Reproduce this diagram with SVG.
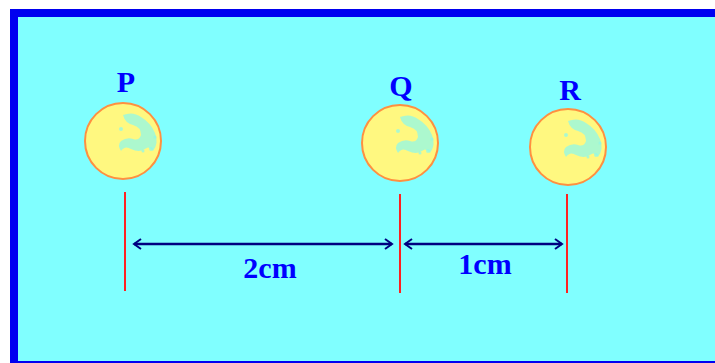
<svg xmlns="http://www.w3.org/2000/svg" width="715" height="363" viewBox="0 0 715 363">
<style>
.ball{fill:#FFF880;stroke:#FF9040;stroke-width:2}
.lbl{font-family:"Liberation Serif",serif;font-weight:bold;font-size:30px;fill:#0000FF;text-anchor:middle}
.rod{stroke:#FF2020;stroke-width:2}
.dim{stroke:#000080;stroke-width:2.5;fill:none}
.spot{fill:#90F8E8;opacity:0.75}
</style>
<defs>
<marker id="ah" markerWidth="12" markerHeight="12" refX="9" refY="6" orient="auto-start-reverse" markerUnits="userSpaceOnUse">
<path d="M2,1 L9,6 L2,11" fill="none" stroke="#000080" stroke-width="2"/>
</marker>
<g id="spots">
<path class="spot" d="M0,-26 q10,-4 18,2 q10,6 14,16 q4,10 -2,18 q-4,-6 -8,-2 q-6,4 -14,0 q-6,-4 -10,2 q-4,-6 0,-10 q6,-4 12,-2 q6,2 8,-4 q0,-8 -8,-10 q-8,-2 -10,-10 z"/>
<circle class="spot" cx="28" cy="8" r="2"/>
<circle class="spot" cx="20" cy="10" r="1.5"/>
<circle class="spot" cx="-2" cy="-12" r="2"/>
<circle class="spot" cx="32" cy="-4" r="1.5"/>
</g>
</defs>
<rect x="0" y="0" width="715" height="363" fill="#FFFFFF"/>
<rect x="14" y="13" width="710" height="352" fill="#80FFFF" stroke="#0000F0" stroke-width="8"/>
<g id="P">
<circle class="ball" cx="123" cy="141" r="38"/>
<use href="#spots" x="123" y="141"/>
<text class="lbl" x="126" y="92">P</text>
<line class="rod" x1="125" y1="192" x2="125" y2="291"/>
</g>
<g id="Q">
<circle class="ball" cx="400" cy="143" r="38"/>
<use href="#spots" x="400" y="143"/>
<text class="lbl" x="401" y="96">Q</text>
<line class="rod" x1="400" y1="194" x2="400" y2="293"/>
</g>
<g id="R">
<circle class="ball" cx="568" cy="147" r="38"/>
<use href="#spots" x="568" y="147"/>
<text class="lbl" x="570" y="100">R</text>
<line class="rod" x1="567" y1="194" x2="567" y2="293"/>
</g>
<g id="connectors">
<line class="dim" x1="134" y1="244" x2="392" y2="244" marker-start="url(#ah)" marker-end="url(#ah)"/>
<line class="dim" x1="405" y1="244" x2="562" y2="244" marker-start="url(#ah)" marker-end="url(#ah)"/>
<text class="lbl" x="270" y="278">2cm</text>
<text class="lbl" x="485" y="274">1cm</text>
</g>
</svg>
